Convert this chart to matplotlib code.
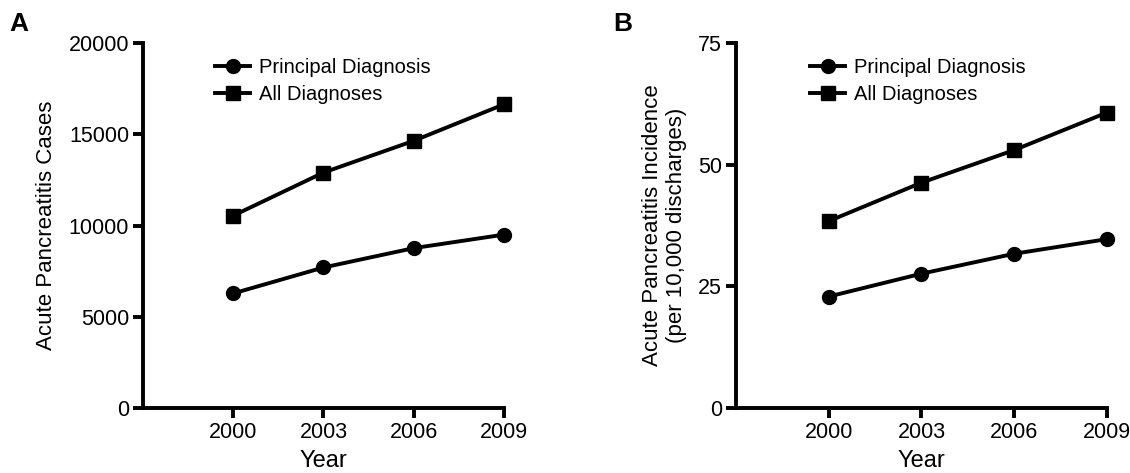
import matplotlib
matplotlib.use("Agg")
import matplotlib.pyplot as plt

plt.rcParams['font.family'] = ['Liberation Sans', 'DejaVu Sans']

# data
years = [2000, 2003, 2006, 2009]
cases_principal = [6280, 7700, 8760, 9500]
cases_all = [10540, 12900, 14640, 16640]
incidence_principal = [22.9, 27.6, 31.7, 34.7]
incidence_all = [38.4, 46.3, 53.0, 60.7]

series_labels = ['Principal Diagnosis', 'All Diagnoses']
cases_ticks = [0, 5000, 10000, 15000, 20000]
incidence_ticks = [0, 25, 50, 75]


def draw_panel(ax, principal, alldx, yticks, ylabel, legend_x):
    """Prism-style line plot with circle / square markers."""
    ax.plot(years, principal, color='black', linewidth=2.8, marker='o',
            markersize=10, label=series_labels[0], clip_on=False, zorder=3)
    ax.plot(years, alldx, color='black', linewidth=2.8, marker='s',
            markersize=10, label=series_labels[1], clip_on=False, zorder=3)

    ax.set_xlim(1997, 2009)
    ax.set_ylim(yticks[0], yticks[-1])
    ax.set_xticks(years)
    ax.set_yticks(yticks)
    ax.set_xlabel('Year', fontsize=17, labelpad=5)
    ax.set_ylabel(ylabel, fontsize=16, labelpad=8)

    # only left and bottom spines, thick, ticks pointing out
    for side in ['top', 'right']:
        ax.spines[side].set_visible(False)
    for side in ['left', 'bottom']:
        ax.spines[side].set_linewidth(2.8)
    ax.tick_params(axis='both', direction='out', width=2.8, length=7,
                   labelsize=15.5, pad=3)

    ax.legend(loc='upper left', bbox_to_anchor=(legend_x, 0.96), frameon=False,
              fontsize=14.5, handlelength=1.75, handletextpad=0.45,
              labelspacing=0.42, borderaxespad=0, borderpad=0)


fig = plt.figure(figsize=(11.3, 4.73), dpi=100)
ax_a = fig.add_axes([0.1265, 0.1374, 0.3195, 0.7717])
ax_b = fig.add_axes([0.6513, 0.1374, 0.3283, 0.7717])

draw_panel(ax_a, cases_principal, cases_all, cases_ticks,
           'Acute Pancreatitis Cases', 0.2)
draw_panel(ax_b, incidence_principal, incidence_all, incidence_ticks,
           'Acute Pancreatitis Incidence\n(per 10,000 discharges)', 0.2)

fig.text(0.008, 0.975, 'A', fontsize=19, fontweight='bold', va='top')
fig.text(0.543, 0.975, 'B', fontsize=19, fontweight='bold', va='top')

plt.savefig('out.png', dpi=100)
